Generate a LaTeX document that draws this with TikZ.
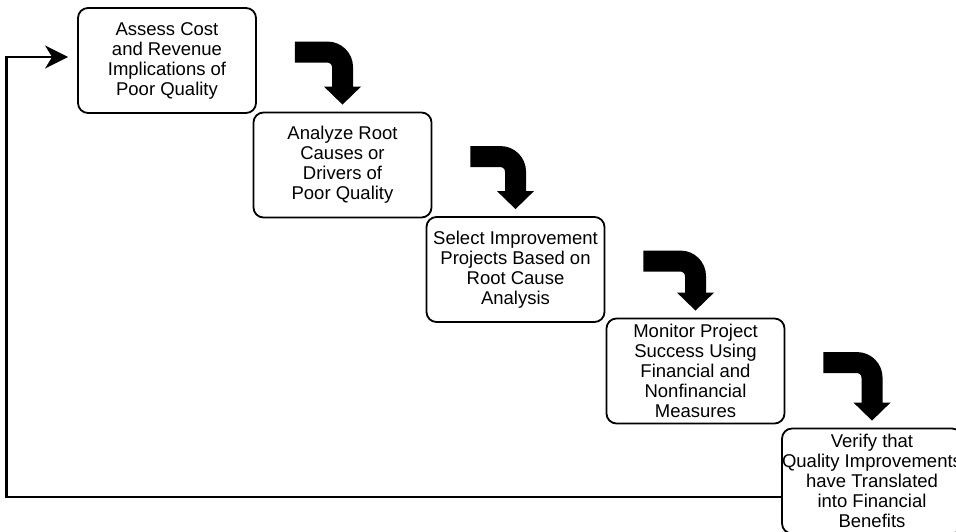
\documentclass[tikz,border=0pt]{standalone}
\usepackage{fontspec}
\setmainfont{Liberation Sans}
\usetikzlibrary{calc,arrows.meta}

% bent block arrow leading from one stage box down to the next
\newcommand{\bendarrow}[2]{%
  \coordinate (s-#1) at ($(#1.north east)+(38,45)$);
  \coordinate (t-#1) at ($(#2.north)+(0,-7)$);
  \draw[bentshaft] (s-#1) -- (s-#1 -| t-#1) -- ($(t-#1)+(0,-17)$);
  \fill ($(t-#1)+(-18.5,-18)$) -- ($(t-#1)+(18.5,-18)$) -- (t-#1) -- cycle;
}

\begin{document}
\begin{tikzpicture}[x=1pt,y=-1pt,
  stage/.style={draw=black, line width=1.8pt, rounded corners=10pt,
    minimum width=178pt, minimum height=105pt, inner sep=0pt,
    align=center, font=\fontsize{18.5}{20}\selectfont},
  bentshaft/.style={line width=21pt, line cap=butt, rounded corners=15pt},
  feedback/.style={line width=2.5pt,
    -{Stealth[length=23pt,width=23pt,inset=7pt]}}]
  \clip (0,0) rectangle (956,531);
  \fill[white] (0,0) rectangle (956,531);

  \node[stage] (b1) at (167,60.5) {Assess Cost\\and Revenue\\Implications of\\Poor Quality};
  \node[stage] (b2) at (342.5,165) {Analyze Root\\Causes or\\Drivers of\\Poor Quality};
  \node[stage] (b3) at (515.5,269.5) {Select Improvement\\Projects Based on\\Root Cause\\Analysis};
  \node[stage] (b4) at (695.5,371) {Monitor Project\\Success Using\\Financial and\\Nonfinancial\\Measures};
  \node[stage] (b5) at (872,481) {Verify that\\Quality Improvements\\have Translated\\into Financial\\Benefits};

  \bendarrow{b1}{b2}
  \bendarrow{b2}{b3}
  \bendarrow{b3}{b4}
  \bendarrow{b4}{b5}

  % return path from the last stage back to the first
  \coordinate (loop) at (6.5,0);
  \draw[feedback] ($(b5.west)+(0,16)$) coordinate (fbstart)
    -- (fbstart -| loop) |- ($(b1.west)+(-9,-3.5)$);
\end{tikzpicture}
\end{document}
